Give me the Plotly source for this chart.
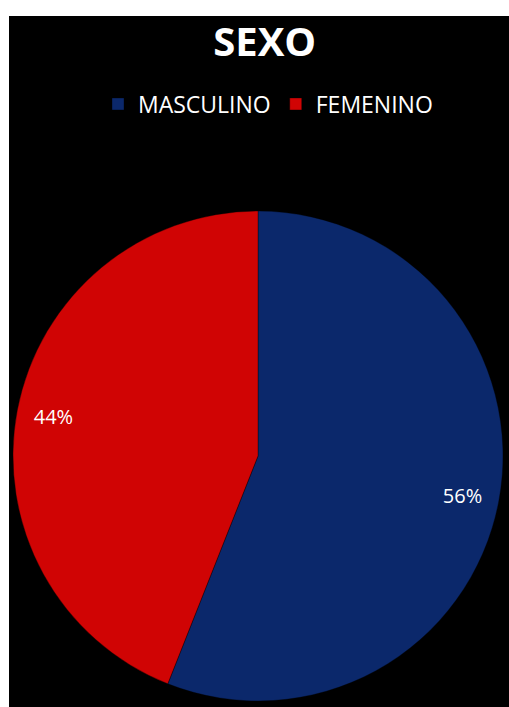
import plotly.graph_objects as go

categories = ["MASCULINO", "FEMENINO"]
values = [56, 44]
colors = ["#0B286B", "#D00404"]
title_text = "SEXO"

W, H = 509, 707
ML, MT = 9, 16
PW, PH = W - ML, H - MT

def fx(px):
    return (px - ML) / PW

def fy(py):
    return (H - py) / PH

dom = dict(x=[fx(13), fx(503)], y=[fy(701), fy(211)])

fig = go.Figure()
fig.add_trace(go.Pie(
    labels=categories, values=values, sort=False, direction="clockwise",
    rotation=0, domain=dom,
    marker=dict(colors=colors, line=dict(color="rgba(0,0,0,0.35)", width=1)),
    textinfo="none", hoverinfo="label+percent",
))
fig.add_trace(go.Pie(
    labels=categories, values=values, sort=False, direction="clockwise",
    rotation=0, domain=dom, hole=0.7,
    marker=dict(colors=["rgba(0,0,0,0)"] * len(values)),
    textinfo="percent", textposition="inside",
    insidetextorientation="horizontal",
    textfont=dict(color="white", size=20, family="Open Sans"),
    showlegend=False, hoverinfo="skip",
))

fig.update_layout(
    width=W, height=H,
    margin=dict(l=ML, r=0, t=MT, b=0),
    paper_bgcolor="white",
    shapes=[dict(type="rect", xref="paper", yref="paper", x0=0, x1=1, y0=0, y1=1,
                 fillcolor="black", line=dict(width=0), layer="below")],
    title=dict(text="<b>" + title_text + "</b>", x=fx(269), xanchor="center",
               y=1 - 42 / H, yanchor="middle", yref="container",
               font=dict(family="Open Sans", size=40, color="white")),
    legend=dict(orientation="h", x=fx(268), xanchor="center", y=fy(104), yanchor="middle",
                font=dict(family="Open Sans", size=23, color="white"),
                bgcolor="rgba(0,0,0,0)"),
)

fig.write_html("out.html", config={"displayModeBar": False},
               post_script="document.body.style.margin='0';document.body.style.padding='0';")
